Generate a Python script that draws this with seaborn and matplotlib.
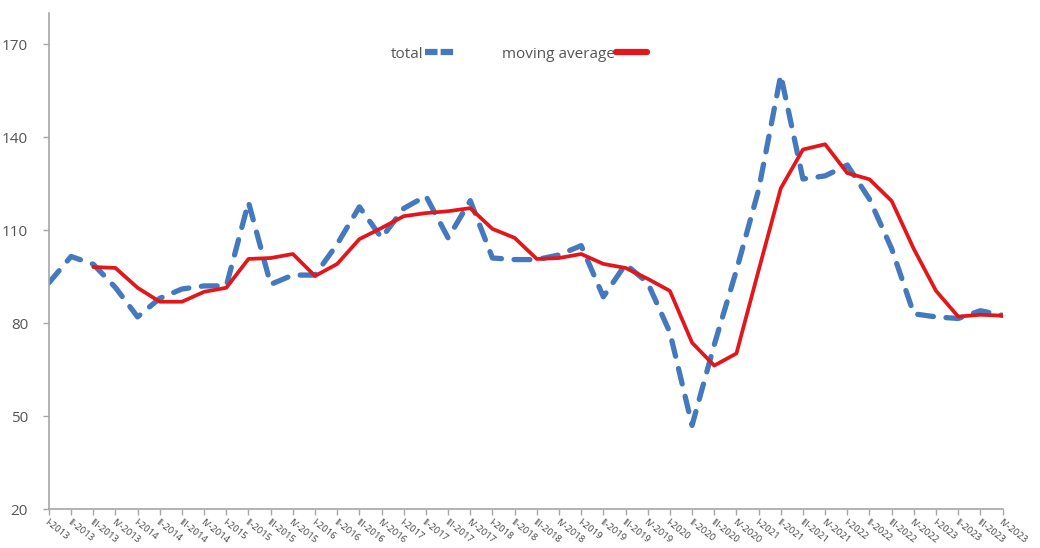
import numpy as np
import pandas as pd
import matplotlib
matplotlib.use("Agg")
import matplotlib.pyplot as plt
import seaborn as sns
from matplotlib.lines import Line2D

quarters = ["I", "II", "III", "IV"]
years = list(range(2013, 2024))
labels = [f"{q}-{y}" for y in years for q in quarters]

total = [93, 101.5, 99, 91.5,
         82, 88, 91, 92,
         92, 119, 92.5, 95.5,
         95.5, 105.5, 117.5, 107.5,
         117, 121, 107.5, 119.5,
         101, 100.5, 100.5, 102,
         105, 88.5, 99, 93,
         77, 47, 73, 97,
         123, 160, 126.5, 127.5,
         131, 120, 104, 83,
         82, 81.5, 84, 82.5]

moving_avg = [np.nan, np.nan, 98.1, 97.8,
              91.4, 86.9, 86.9, 90.1,
              91.4, 100.7, 101.0, 102.3,
              95.2, 99.1, 107.1, 110.7,
              114.5, 115.5, 116.1, 117.1,
              110.4, 107.5, 100.7, 101.0,
              102.3, 99.1, 97.8, 94.3,
              90.4, 73.7, 66.3, 70.2,
              97.0, 123.5, 136.0, 137.7,
              128.4, 126.4, 119.4, 103.9,
              90.4, 82.1, 82.7, 82.4]

yticks = [20, 50, 80, 110, 140, 170]

sns.set_theme(style="white")
plt.rcParams['font.family'] = ['Open Sans', 'DejaVu Sans']

df = pd.DataFrame({"idx": np.arange(len(labels)), "label": labels,
                   "total": total, "moving average": moving_avg})

fig = plt.figure(figsize=(10.4, 5.48), dpi=100)
ax = fig.add_axes([0.047, 0.071, 0.917, 0.905])

blue = "#4479BE"
red = "#E3161B"

sns.lineplot(data=df, x="idx", y="total", ax=ax, color=blue, linewidth=3.8,
             dashes=False)
ax.lines[-1].set_dashes((3.0, 2.4))
ax.lines[-1].set_dash_capstyle("round")
sns.lineplot(data=df.dropna(), x="idx", y="moving average", ax=ax, color=red,
             linewidth=2.7)

ax.set_xlim(0, len(labels) - 1)
ax.set_ylim(20, 180)
ax.set_yticks(yticks)
ax.set_yticklabels([str(v) for v in yticks], color="#555555", fontsize=11)
ax.set_xticks(df["idx"])
ax.set_xticklabels(labels, rotation=-38, ha="left", va="top",
                   rotation_mode="anchor", fontsize=6.8, color="#444444")
ax.set_xlabel("")
ax.set_ylabel("")

for s in ["top", "right"]:
    ax.spines[s].set_visible(False)
for s in ["left", "bottom"]:
    ax.spines[s].set_color("#A6A6A6")
    ax.spines[s].set_linewidth(1.2)
ax.tick_params(axis="both", which="both", direction="out", length=4,
               width=1, color="#A6A6A6", bottom=True, left=True, pad=3)
ax.tick_params(axis="x", pad=2)
ax.tick_params(axis="y", pad=11)

h1 = Line2D([], [], color=blue, linewidth=4.5, dashes=(2.0, 0.5))
h2 = Line2D([], [], color=red, linewidth=4.5)
leg = ax.legend([h1, h2], ["total", "moving average"], ncol=2,
                loc="center", bbox_to_anchor=(0.493, 0.917),
                markerfirst=False, frameon=False, fontsize=11,
                handlelength=2.0, handletextpad=0.1, columnspacing=3.0)
for t in leg.get_texts():
    t.set_color("#555555")

fig.savefig("out.png", dpi=100, facecolor="white")
